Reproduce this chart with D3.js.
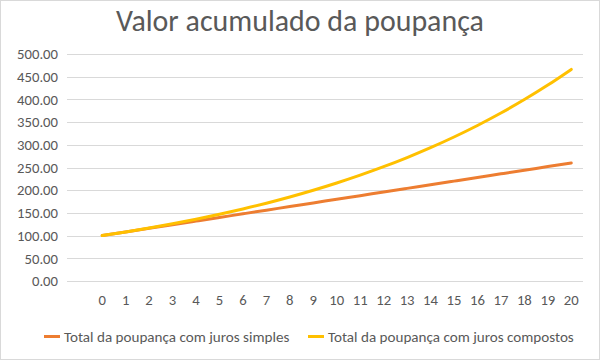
<!DOCTYPE html>
<html>
<head>
<meta charset="utf-8">
<script src="https://cdn.jsdelivr.net/npm/d3@7"></script>
<style>
  html, body { margin: 0; padding: 0; background: #fff; }
  svg { display: block; }
</style>
</head>
<body>
<svg id="chart" width="600" height="360"></svg>
<script>
const title = "Valor acumulado da poupança";
const categories = ["", "0","1","2","3","4","5","6","7","8","9","10","11","12","13","14","15","16","17","18","19","20"];
const periods = ["0","1","2","3","4","5","6","7","8","9","10","11","12","13","14","15","16","17","18","19","20"];
const simpleValues = [100,108,116,124,132,140,148,156,164,172,180,188,196,204,212,220,228,236,244,252,260];
const compoundValues = [100,108,116.64,125.97,136.05,146.93,158.69,171.38,185.09,199.90,215.89,233.16,251.82,271.96,293.72,317.22,342.59,370.00,399.60,431.57,466.10];
const yTicks = [0,50,100,150,200,250,300,350,400,450,500];
const seriesNames = ["Total da poupança com juros simples", "Total da poupança com juros compostos"];
const seriesColors = ["#ED7D31", "#FFC000"];

const svg = d3.select("#chart");
const W = 600, H = 360;
const font = "Carlito, Calibri, 'Open Sans', 'Noto Sans', sans-serif";
const textColor = "#595959";

svg.append("rect").attr("x", 0.5).attr("y", 0.5).attr("width", W - 1).attr("height", H - 1)
  .attr("fill", "#fff").attr("stroke", "#D9D9D9");

const plot = { left: 67, right: 583, top: 54, bottom: 281 };

const x = d3.scaleBand().domain(categories).range([plot.left, plot.right]).padding(0);
const y = d3.scaleLinear().domain([0, 500]).range([plot.bottom, plot.top]);
const cx = d => x(d) + x.bandwidth() / 2;

// font size such that a sample string has a target width
function sizeFor(sample, target, base) {
  const tmp = svg.append("text").attr("font-family", font).attr("font-size", base).text(sample);
  const w = tmp.node().getComputedTextLength();
  tmp.remove();
  return base * target / w;
}
const tickFs = sizeFor("500.00", 41, 13);
const legendFs = sizeFor(seriesNames[1], 246, 13);

// Title
svg.append("text").attr("x", 300).attr("y", 31).attr("text-anchor", "middle")
  .attr("font-family", font).attr("font-size", sizeFor(title, 368, 28))
  .attr("fill", textColor).text(title);

// Gridlines
svg.append("g").selectAll("line").data(yTicks).join("line")
  .attr("x1", plot.left).attr("x2", plot.right)
  .attr("y1", d => Math.round(y(d)) + 0.5).attr("y2", d => Math.round(y(d)) + 0.5)
  .attr("stroke", "#D9D9D9").attr("stroke-width", 1);

// Y axis
const yAxis = d3.axisLeft(y).tickValues(yTicks).tickFormat(d3.format(".2f")).tickSize(0).tickPadding(9);
const gy = svg.append("g").attr("transform", `translate(${plot.left},0)`).call(yAxis);
gy.select(".domain").remove();
gy.selectAll("text").attr("font-family", font).attr("font-size", tickFs).attr("fill", textColor);

// X axis
const xAxis = d3.axisBottom(x).tickSize(0).tickPadding(14);
const gx = svg.append("g").attr("transform", `translate(0,${plot.bottom})`).call(xAxis);
gx.select(".domain").remove();
gx.selectAll("text").attr("font-family", font).attr("font-size", tickFs).attr("fill", textColor);

// Lines
const line = d3.line().x((d, i) => cx(periods[i])).y(d => y(d)).curve(d3.curveMonotoneX);
[simpleValues, compoundValues].forEach((vals, k) => {
  svg.append("path").datum(vals).attr("d", line)
    .attr("fill", "none").attr("stroke", seriesColors[k]).attr("stroke-width", 3)
    .attr("stroke-linecap", "round").attr("stroke-linejoin", "round");
});

// Legend
const legendItems = [
  { x1: 44, x2: 60, tx: 64 },
  { x1: 308, x2: 324, tx: 328 }
];
const ly = 336.5;
legendItems.forEach((it, k) => {
  svg.append("line").attr("x1", it.x1).attr("x2", it.x2).attr("y1", ly).attr("y2", ly)
    .attr("stroke", seriesColors[k]).attr("stroke-width", 3);
  svg.append("text").attr("x", it.tx).attr("y", ly + 5)
    .attr("font-family", font).attr("font-size", legendFs).attr("fill", textColor).text(seriesNames[k]);
});
</script>
</body>
</html>
